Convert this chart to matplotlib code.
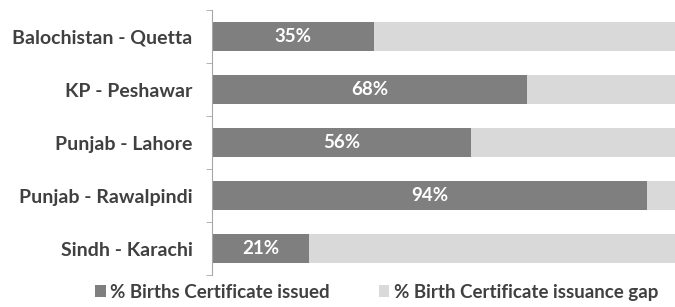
import matplotlib.pyplot as plt
import numpy as np

# Data
cities = ["Balochistan - Quetta", "KP - Peshawar", "Punjab - Lahore",
          "Punjab - Rawalpindi", "Sindh - Karachi"]
issued = [35, 68, 56, 94, 21]
gap = [65, 32, 44, 6, 79]

plt.rcParams['font.family'] = ['Lato', 'DejaVu Sans']
text_col = "#404040"

fig = plt.figure(figsize=(6.75, 3.07), dpi=100)
ax = fig.add_axes([0.314, 0.104, 0.686, 0.863])

y = np.arange(len(cities))
h = 0.56
ax.barh(y, issued, height=h, color="#7f7f7f", label="% Births Certificate issued")
ax.barh(y, gap, left=issued, height=h, color="#d9d9d9",
        label="% Birth Certificate issuance gap")

for yi, v in zip(y, issued):
    ax.text(v / 2, yi, f"{v}%", ha="center", va="center", color="white",
            fontsize=13.5, fontweight="bold")

ax.set_xlim(0, 100)
ax.set_ylim(len(cities) - 0.5, -0.5)
ax.set_yticks(y)
ax.set_yticklabels(cities, fontsize=14, fontweight="bold", color=text_col)
ax.tick_params(axis="y", which="major", length=0, pad=14)
ax.set_yticks(np.arange(len(cities) + 1) - 0.5, minor=True)
ax.tick_params(axis="y", which="minor", length=4, color="#a6a6a6")
ax.set_xticks([])
for s in ["top", "right", "bottom"]:
    ax.spines[s].set_visible(False)
ax.spines["left"].set_color("#a6a6a6")

fig.legend(loc="center", bbox_to_anchor=(0.558, 0.048), ncol=2, frameon=False,
           prop={"weight": "bold", "size": 13.5},
           handlelength=0.55, handleheight=0.55, handletextpad=0.25, columnspacing=2.6,
           labelcolor=text_col)

plt.savefig("out.png", dpi=100)
